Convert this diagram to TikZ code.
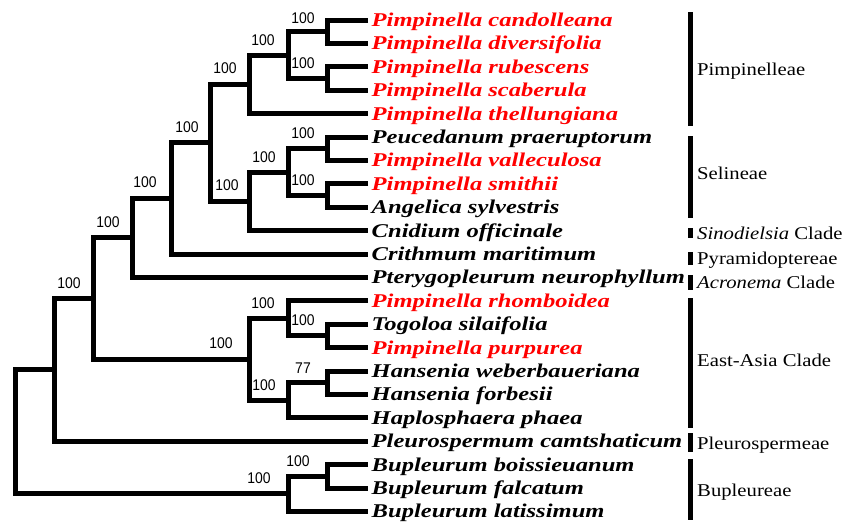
\documentclass[tikz,border=0pt]{standalone}
\usepackage{fontspec}
\setmainfont{Liberation Serif}
\newfontfamily\leaffont[FakeStretch=1.26]{Liberation Serif}
\newfontfamily\cladefont[FakeStretch=1.15]{Liberation Serif}
\newfontfamily\bootfont[FakeStretch=0.9]{Liberation Sans}
\usetikzlibrary{calc}
\definecolor{pimred}{RGB}{255,0,0}
\tikzset{
  branch/.style={line width=5pt, line join=miter},
  leaf/.style={anchor=west, inner xsep=3.5pt, inner ysep=0pt, text height=13pt, text depth=0pt,
    font=\leaffont\bfseries\itshape\fontsize{19.5}{21}\selectfont},
  pim/.style={leaf, text=pimred},
  clade/.style={anchor=west, inner xsep=0pt, inner ysep=0pt, text height=12pt, text depth=0pt,
    font=\cladefont\fontsize{18}{20}\selectfont},
  cladebar/.style={line width=5pt},
  boot/.style={inner sep=0pt, font=\bootfont\fontsize{15.5}{17}\selectfont},
}
\newcommand\bootlab[4]{\node[boot] (b#1) at ($(#1)+(#2,#3)$) {#4};}
\begin{document}
\begin{tikzpicture}[x=1pt,y=-1pt]
\useasboundingbox (0,0) rectangle (846,525);
% leaves
\node[pim]  (L1)  at (368,20)    {Pimpinella candolleana};
\node[pim]  (L2)  at (368,43.4)  {Pimpinella diversifolia};
\node[pim]  (L3)  at (368,66.8)  {Pimpinella rubescens};
\node[pim]  (L4)  at (368,90.2)  {Pimpinella scaberula};
\node[pim]  (L5)  at (368,113.6) {Pimpinella thellungiana};
\node[leaf] (L6)  at (368,137)   {Peucedanum praeruptorum};
\node[pim]  (L7)  at (368,160.4) {Pimpinella valleculosa};
\node[pim]  (L8)  at (368,183.8) {Pimpinella smithii};
\node[leaf] (L9)  at (368,207.2) {Angelica sylvestris};
\node[leaf] (L10) at (368,230.6) {Cnidium officinale};
\node[leaf] (L11) at (368,254)   {Crithmum maritimum};
\node[leaf] (L12) at (368,277.4) {Pterygopleurum neurophyllum};
\node[pim]  (L13) at (368,300.8) {Pimpinella rhomboidea};
\node[leaf] (L14) at (368,324.2) {Togoloa silaifolia};
\node[pim]  (L15) at (368,347.6) {Pimpinella purpurea};
\node[leaf] (L16) at (368,371)   {Hansenia weberbaueriana};
\node[leaf] (L17) at (368,394.4) {Hansenia forbesii};
\node[leaf] (L18) at (368,417.8) {Haplosphaera phaea};
\node[leaf] (L19) at (368,441.2) {Pleurospermum camtshaticum};
\node[leaf] (L20) at (368,464.6) {Bupleurum boissieuanum};
\node[leaf] (L21) at (368,488)   {Bupleurum falcatum};
\node[leaf] (L22) at (368,511.4) {Bupleurum latissimum};
% internal nodes
\coordinate (n12)   at (327,31.7);
\coordinate (n34)   at (327,78.5);
\coordinate (n1234) at (288,55.1);
\coordinate (n15)   at (249,84.35);
\coordinate (n67)   at (327,148.7);
\coordinate (n89)   at (327,195.5);
\coordinate (n69)   at (288,172.1);
\coordinate (n610)  at (249,201.35);
\coordinate (n110)  at (210,142.85);
\coordinate (n111)  at (171,198.4);
\coordinate (n112)  at (132,237.9);
\coordinate (n1415) at (327,335.9);
\coordinate (n1315) at (288,318.35);
\coordinate (n1617) at (327,382.7);
\coordinate (n1618) at (288,400.25);
\coordinate (n1318) at (249,359.3);
\coordinate (n118)  at (93,298.6);
\coordinate (n119)  at (54,369.9);
\coordinate (n2021) at (327,476.3);
\coordinate (n2022) at (288,493.85);
\coordinate (root)  at (15,431.9);
% branches
\draw[branch] (L1.west) -| (n12) |- (L2.west);
\draw[branch] (L3.west) -| (n34) |- (L4.west);
\draw[branch] (n12) -| (n1234) |- (n34);
\draw[branch] (n1234) -| (n15) |- (L5.west);
\draw[branch] (L6.west) -| (n67) |- (L7.west);
\draw[branch] (L8.west) -| (n89) |- (L9.west);
\draw[branch] (n67) -| (n69) |- (n89);
\draw[branch] (n69) -| (n610) |- (L10.west);
\draw[branch] (n15) -| (n110) |- (n610);
\draw[branch] (n110) -| (n111) |- (L11.west);
\draw[branch] (n111) -| (n112) |- (L12.west);
\draw[branch] (L14.west) -| (n1415) |- (L15.west);
\draw[branch] (L13.west) -| (n1315) |- (n1415);
\draw[branch] (L16.west) -| (n1617) |- (L17.west);
\draw[branch] (n1617) -| (n1618) |- (L18.west);
\draw[branch] (n1315) -| (n1318) |- (n1618);
\draw[branch] (n112) -| (n118) |- (n1318);
\draw[branch] (n118) -| (n119) |- (L19.west);
\draw[branch] (L20.west) -| (n2021) |- (L21.west);
\draw[branch] (n2021) -| (n2022) |- (L22.west);
\draw[branch] (n119) -| (root) |- (n2022);
% bootstrap values
\bootlab{n12}{-24}{-14}{100}
\bootlab{n34}{-24}{-15.5}{100}
\bootlab{n1234}{-25}{-15}{100}
\bootlab{n15}{-24}{-16}{100}
\bootlab{n67}{-24}{-16}{100}
\bootlab{n89}{-24}{-15.5}{100}
\bootlab{n69}{-24}{-15}{100}
\bootlab{n610}{-22}{-16}{100}
\bootlab{n110}{-23}{-16}{100}
\bootlab{n111}{-26}{-16}{100}
\bootlab{n112}{-24}{-16}{100}
\bootlab{n118}{-24}{-15.6}{100}
\bootlab{n1315}{-25}{-15}{100}
\bootlab{n1415}{-24}{-16}{100}
\bootlab{n1318}{-28}{-16}{100}
\bootlab{n1617}{-24}{-15}{77}
\bootlab{n1618}{-24}{-15}{100}
\bootlab{n2021}{-29}{-15}{100}
\bootlab{n2022}{-29}{-16}{100}
% clade bars
\coordinate (c1t) at (690,12);  \coordinate (c1b) at (690,126);
\coordinate (c2t) at (690,136); \coordinate (c2b) at (690,218);
\coordinate (c3t) at (690,228); \coordinate (c3b) at (690,238);
\coordinate (c4t) at (690,252); \coordinate (c4b) at (690,265);
\coordinate (c5t) at (690,275); \coordinate (c5b) at (690,290);
\coordinate (c6t) at (690,298); \coordinate (c6b) at (690,428);
\coordinate (c7t) at (690,433); \coordinate (c7b) at (690,452);
\coordinate (c8t) at (690,459); \coordinate (c8b) at (690,520);
\foreach \i in {1,...,8} {\draw[cladebar] (c\i t) -- (c\i b);}
\node[clade] (k1) at (697,69)  {Pimpinelleae};
\node[clade] (k2) at (697,173) {Selineae};
\node[clade] (k3) at (697,233) {\textit{Sinodielsia} Clade};
\node[clade] (k4) at (697,258) {Pyramidoptereae};
\node[clade] (k5) at (697,282) {\textit{Acronema} Clade};
\node[clade] (k6) at (697,360) {East-Asia Clade};
\node[clade] (k7) at (697,443) {Pleurospermeae};
\node[clade] (k8) at (697,490) {Bupleureae};
\end{tikzpicture}
\end{document}
